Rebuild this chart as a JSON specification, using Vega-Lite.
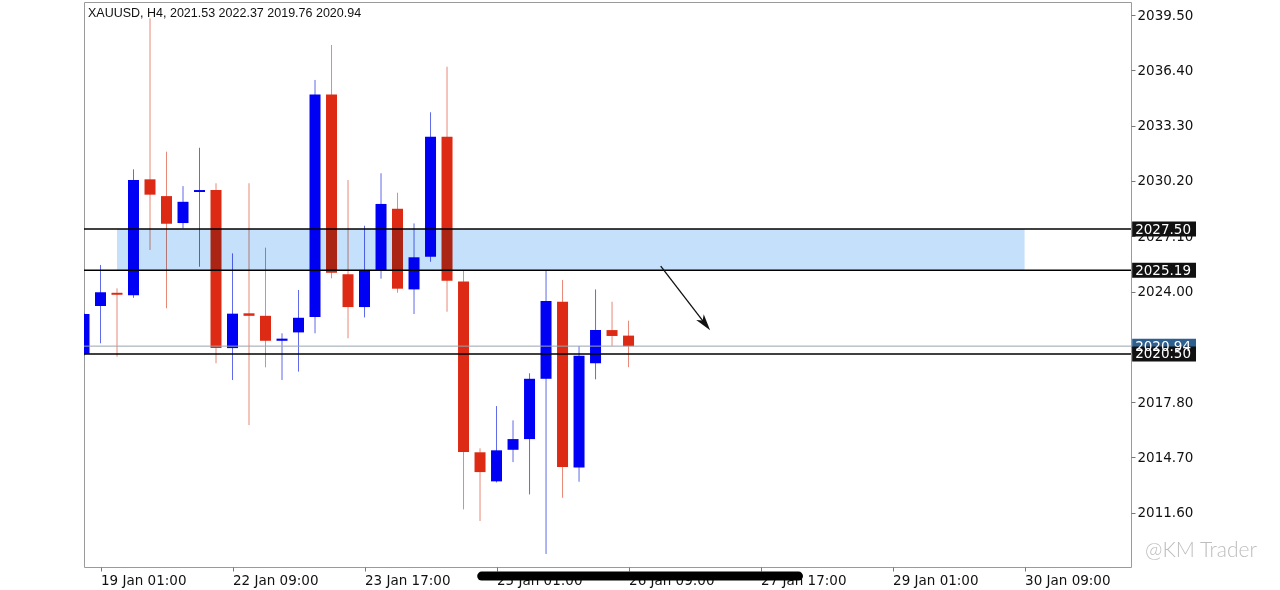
{
  "$schema": "https://vega.github.io/schema/vega-lite/v6.json",
  "width": 1047,
  "height": 565,
  "autosize": {"type": "none"},
  "padding": {"left": 84, "top": 2, "right": 149, "bottom": 23},
  "background": "white",
  "config": {
    "view": {"stroke": "#9a9a9a", "strokeWidth": 1},
    "font": "DejaVu Sans"
  },
  "datasets": {
    "candles": [
      {"i": -1, "o": 2020.50, "h": 2022.80, "l": 2020.40, "c": 2022.74},
      {"i": 0, "o": 2023.19, "h": 2025.49, "l": 2021.10, "c": 2023.96},
      {"i": 1, "o": 2023.93, "h": 2024.18, "l": 2020.35, "c": 2023.82},
      {"i": 2, "o": 2023.79, "h": 2030.85, "l": 2023.65, "c": 2030.25},
      {"i": 3, "o": 2030.29, "h": 2039.31, "l": 2026.33, "c": 2029.43},
      {"i": 4, "o": 2029.35, "h": 2031.84, "l": 2023.06, "c": 2027.80},
      {"i": 5, "o": 2027.84, "h": 2029.91, "l": 2027.54, "c": 2029.03},
      {"i": 6, "o": 2029.58, "h": 2032.06, "l": 2025.39, "c": 2029.69},
      {"i": 7, "o": 2029.69, "h": 2030.07, "l": 2019.98, "c": 2020.83},
      {"i": 8, "o": 2020.83, "h": 2026.14, "l": 2019.04, "c": 2022.76},
      {"i": 9, "o": 2022.78, "h": 2030.07, "l": 2016.52, "c": 2022.64},
      {"i": 10, "o": 2022.64, "h": 2026.46, "l": 2019.75, "c": 2021.24},
      {"i": 11, "o": 2021.24, "h": 2021.66, "l": 2019.04, "c": 2021.36},
      {"i": 12, "o": 2021.71, "h": 2024.09, "l": 2019.51, "c": 2022.53},
      {"i": 13, "o": 2022.57, "h": 2035.86, "l": 2021.66, "c": 2035.05},
      {"i": 14, "o": 2035.05, "h": 2037.82, "l": 2024.74, "c": 2025.06},
      {"i": 15, "o": 2024.97, "h": 2030.25, "l": 2021.38, "c": 2023.13},
      {"i": 16, "o": 2023.13, "h": 2027.69, "l": 2022.55, "c": 2025.21},
      {"i": 17, "o": 2025.21, "h": 2030.63, "l": 2024.72, "c": 2028.91},
      {"i": 18, "o": 2028.64, "h": 2029.54, "l": 2023.93, "c": 2024.16},
      {"i": 19, "o": 2024.12, "h": 2027.82, "l": 2022.74, "c": 2025.92},
      {"i": 20, "o": 2025.95, "h": 2034.05, "l": 2025.67, "c": 2032.68},
      {"i": 21, "o": 2032.68, "h": 2036.60, "l": 2022.87, "c": 2024.61},
      {"i": 22, "o": 2024.57, "h": 2025.21, "l": 2011.79, "c": 2015.00},
      {"i": 23, "o": 2014.99, "h": 2015.21, "l": 2011.14, "c": 2013.88},
      {"i": 24, "o": 2013.36, "h": 2017.58, "l": 2013.30, "c": 2015.10},
      {"i": 25, "o": 2015.13, "h": 2016.78, "l": 2014.44, "c": 2015.73},
      {"i": 26, "o": 2015.73, "h": 2019.42, "l": 2012.63, "c": 2019.11},
      {"i": 27, "o": 2019.11, "h": 2025.21, "l": 2009.29, "c": 2023.47},
      {"i": 28, "o": 2023.43, "h": 2024.65, "l": 2012.44, "c": 2014.16},
      {"i": 29, "o": 2014.14, "h": 2020.95, "l": 2013.34, "c": 2020.40},
      {"i": 30, "o": 2019.98, "h": 2024.12, "l": 2019.08, "c": 2021.84},
      {"i": 31, "o": 2021.84, "h": 2023.43, "l": 2020.95, "c": 2021.51},
      {"i": 32, "o": 2021.53, "h": 2022.37, "l": 2019.76, "c": 2020.94}
    ],
    "levels": [{"p": 2027.50}, {"p": 2025.19}, {"p": 2020.50}],
    "current": [{"p": 2020.94}],
    "zone": [{"x1": 1, "x2": 56, "y1": 2025.19, "y2": 2027.50}],
    "arrow": [{"x1": 33.95, "y1": 2025.43, "x2": 36.62, "y2": 2022.22}],
    "tags": [
      {"p": 2020.94, "label": "2020.94"},
      {"p": 2020.50, "label": "2020.50"},
      {"p": 2027.50, "label": "2027.50"},
      {"p": 2025.19, "label": "2025.19"}
    ],
    "caption": [{"text": "XAUUSD, H4, 2021.53 2022.37 2019.76 2020.94"}],
    "brand": [{"text": "@KM Trader"}],
    "blot": [{"a": 23.1, "b": 42.3, "p": 2008.05}]
  },
  "encoding": {
    "x": {
      "type": "quantitative",
      "scale": {"domain": [-1, 62.45], "nice": false, "zero": false, "padding": 0},
      "axis": {
        "title": null,
        "grid": false,
        "domain": false,
        "values": [0, 8, 16, 24, 32, 40, 48, 56],
        "labelExpr": "['19 Jan 01:00','22 Jan 09:00','23 Jan 17:00','25 Jan 01:00','26 Jan 09:00','27 Jan 17:00','29 Jan 01:00','30 Jan 09:00'][round(datum.value/8)]",
        "labelAlign": "left",
        "labelFont": "DejaVu Sans",
        "labelFontSize": 13.5,
        "labelColor": "#111111",
        "labelPadding": 2,
        "tickSize": 4,
        "tickColor": "#777777",
        "labelFlush": false,
        "labelOverlap": false
      }
    },
    "y": {
      "type": "quantitative",
      "scale": {"domain": [2008.56, 2040.23], "nice": false, "zero": false, "padding": 0},
      "axis": {
        "orient": "right",
        "title": null,
        "grid": false,
        "domain": false,
        "values": [2011.6, 2014.7, 2017.8, 2020.9, 2024.0, 2027.1, 2030.2, 2033.3, 2036.4, 2039.5],
        "format": ".2f",
        "labelFont": "DejaVu Sans",
        "labelFontSize": 13.5,
        "labelColor": "#111111",
        "labelPadding": 2,
        "tickSize": 4,
        "tickColor": "#777777",
        "labelOverlap": false
      }
    }
  },
  "layer": [
    {
      "data": {"name": "candles"},
      "mark": {"type": "rule", "strokeWidth": 1, "opacity": 0.75, "clip": true},
      "encoding": {
        "x": {"field": "i"},
        "y": {"field": "l"},
        "y2": {"field": "h"},
        "color": {"condition": {"test": "datum.c >= datum.o", "value": "#2a3ae0"}, "value": "#e0604a"}
      }
    },
    {
      "data": {"name": "candles"},
      "mark": {"type": "bar", "size": 11, "clip": true},
      "encoding": {
        "x": {"field": "i"},
        "y": {"field": "o"},
        "y2": {"field": "c"},
        "color": {"condition": {"test": "datum.c >= datum.o", "value": "#0000f5"}, "value": "#dd2a14"}
      }
    },
    {
      "data": {"name": "zone"},
      "mark": {"type": "rect", "color": "#c4e0fa", "blend": "multiply"},
      "encoding": {
        "x": {"field": "x1"},
        "x2": {"field": "x2"},
        "y": {"field": "y1"},
        "y2": {"field": "y2"}
      }
    },
    {
      "data": {"name": "current"},
      "mark": {"type": "rule", "color": "#9aa4ae", "strokeWidth": 1},
      "encoding": {"y": {"field": "p"}}
    },
    {
      "data": {"name": "levels"},
      "mark": {"type": "rule", "color": "#000000", "strokeWidth": 1.5},
      "encoding": {"y": {"field": "p"}}
    },
    {
      "data": {"name": "arrow"},
      "mark": {"type": "rule", "color": "#111111", "strokeWidth": 1.3},
      "encoding": {
        "x": {"field": "x1"},
        "y": {"field": "y1"},
        "x2": {"field": "x2"},
        "y2": {"field": "y2"}
      }
    },
    {
      "data": {"name": "arrow"},
      "mark": {"type": "point", "shape": "M0,1L-0.55,-0.9L0,-0.4L0.55,-0.9Z", "filled": true, "color": "#111111", "size": 300, "angle": 322, "opacity": 1},
      "encoding": {
        "x": {"field": "x2"},
        "y": {"field": "y2"}
      }
    },
    {
      "data": {"name": "tags"},
      "mark": {"type": "bar", "orient": "horizontal", "size": 15},
      "encoding": {
        "x": {"datum": 62.52},
        "x2": {"datum": 66.39},
        "y": {"field": "p"},
        "color": {"condition": {"test": "datum.p == 2020.94", "value": "#2e5f8e"}, "value": "#111111"}
      }
    },
    {
      "data": {"name": "tags"},
      "mark": {"type": "text", "align": "left", "baseline": "middle", "dx": 3, "dy": 0.5, "font": "DejaVu Sans", "fontSize": 13.5, "color": "#ffffff"},
      "encoding": {
        "x": {"datum": 62.52},
        "y": {"field": "p"},
        "text": {"field": "label"}
      }
    },
    {
      "data": {"name": "caption"},
      "mark": {"type": "text", "align": "left", "baseline": "top", "dx": 4, "dy": 5, "font": "Liberation Sans", "fontSize": 12.5, "color": "#111111"},
      "encoding": {
        "x": {"datum": -1},
        "y": {"datum": 2040.23},
        "text": {"field": "text"}
      }
    },
    {
      "data": {"name": "brand"},
      "mark": {"type": "text", "align": "left", "baseline": "middle", "font": "Lato", "fontWeight": 300, "fontSize": 21, "color": "#bdbdbd"},
      "encoding": {
        "x": {"datum": 63.3},
        "y": {"datum": 2009.45},
        "text": {"field": "text"}
      }
    },
    {
      "data": {"name": "blot"},
      "mark": {"type": "rule", "color": "#000000", "strokeWidth": 9, "strokeCap": "round"},
      "encoding": {
        "x": {"field": "a"},
        "x2": {"field": "b"},
        "y": {"field": "p"}
      }
    }
  ]
}
